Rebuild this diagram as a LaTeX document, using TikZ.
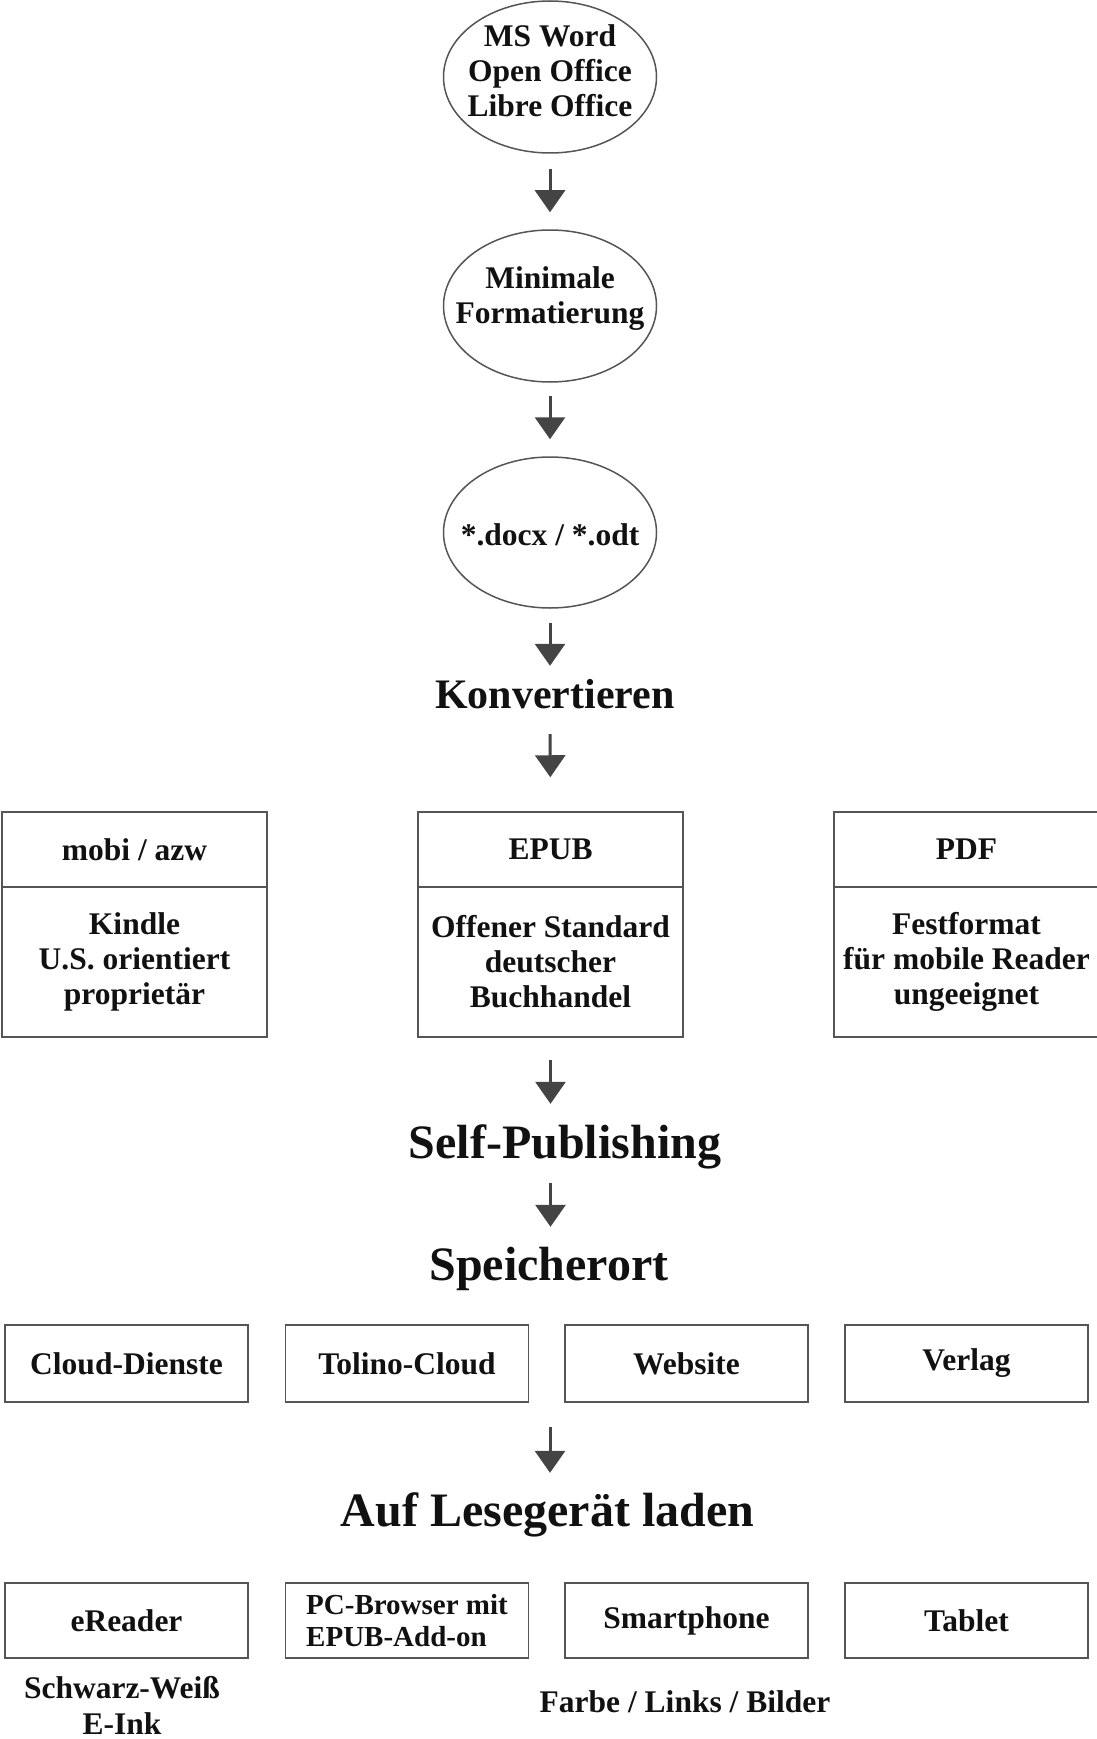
\documentclass[tikz,border=0pt]{standalone}
\usepackage{fontspec}
\setmainfont{Liberation Serif}
\usetikzlibrary{arrows.meta,shapes.geometric}
\definecolor{linegray}{HTML}{555555}
\definecolor{arrowgray}{HTML}{444444}
\definecolor{txtcol}{HTML}{111111}
\begin{document}
\begin{tikzpicture}[x=1pt,y=-1pt,
  every node/.style={text=txtcol, font=\bfseries\fontsize{31.5}{35}\selectfont},
  ell/.style={draw=linegray, line width=1.5pt, ellipse, inner sep=0pt, minimum width=213pt, minimum height=152pt},
  box/.style={draw=linegray, line width=1.5pt, rectangle, inner sep=0pt, minimum width=243pt, align=center},
  fbox/.style={box, minimum width=265pt},
  head/.style={font=\bfseries\fontsize{48}{52}\selectfont, inner sep=0pt, text height=30pt, text depth=10pt, anchor=base},
  arr/.style={draw=arrowgray, line width=3pt, -{Triangle[width=30pt,length=22pt]}}
]
\useasboundingbox (0,0) rectangle (1096,1739);

% ellipses
\node[ell] (e1) at (550,77) {};
\node[align=center] (t1) at (550,70.5) {MS Word\\Open Office\\Libre Office};
\node[ell] (e2) at (550,306) {};
\node[align=center] (t2) at (550,299) {Minimale\\Formatierung};
\node[ell, minimum height=151pt] (e3) at (550,532.5) {};
\node (t3) at (550,535) {*.docx / *.odt};

% headings
\node[head, font=\bfseries\fontsize{42}{46}\selectfont, text height=28pt] (konv) at (555,708) {Konvertieren};
\node[head] (selfpub) at (565,1158) {Self-Publishing};
\node[head] (speicher) at (549,1280) {Speicherort};
\node[head] (auf) at (547.5,1526) {Auf Lesegerät laden};

% format boxes
\node[fbox, minimum height=75pt] (mobiH) at (134.5,849.5) {mobi / azw};
\node[fbox, minimum height=150pt] (mobiB) at (134.5,962) {Kindle\\U.S. orientiert\\proprietär};
\node[fbox, minimum height=75pt] (epubH) at (550.5,849.5) {EPUB};
\node[fbox, minimum height=150pt] (epubB) at (550.5,962) {Offener Standard\\deutscher\\Buchhandel};
\node[fbox, minimum height=75pt] (pdfH) at (966.5,849.5) {PDF};
\node[fbox, minimum height=150pt] (pdfB) at (966.5,962) {Festformat\\für mobile Reader\\ungeeignet};

% storage boxes
\node[box, minimum height=77pt] (cloud) at (126.5,1363.5) {Cloud-Dienste};
\node[box, minimum height=77pt] (tolino) at (407,1363.5) {Tolino-Cloud};
\node[box, minimum height=77pt] (website) at (686.5,1363.5) {Website};
\node[box, minimum height=77pt] (verlag) at (966.5,1363.5) {Verlag};

% device boxes
\node[box, minimum height=75pt] (ereader) at (126.5,1620.5) {eReader};
\node[box, minimum height=75pt, align=left, font=\bfseries\fontsize{29}{32}\selectfont] (pc) at (407,1620.5) {PC-Browser mit\\EPUB-Add-on};
\node[box, minimum height=75pt] (smart) at (686.5,1620.5) {Smartphone};
\node[box, minimum height=75pt] (tablet) at (966.5,1620.5) {Tablet};

% notes
\node[align=center, font=\bfseries\fontsize{31.5}{36}\selectfont] (sw) at (122,1705.5) {Schwarz-Weiß\\E-Ink};
\node[anchor=base, inner sep=0pt] (farbe) at (685,1712) {Farbe / Links / Bilder};

% arrows
\draw[arr, shorten <=15pt, shorten >=17pt] (e1.south) -- (e2.north);
\draw[arr, shorten <=13pt, shorten >=17pt] (e2.south) -- (e3.north);
\draw[arr, shorten <=14pt, shorten >=14pt] (e3.south) -- (e3.south |- konv.north);
\draw[arr, shorten <=16pt, shorten >=34pt] (e3.south |- konv.south) -- (epubH.north);
\draw[arr, shorten <=22pt, shorten >=24pt] (epubB.south) -- (epubB.south |- selfpub.north);
\draw[arr, shorten <=15pt, shorten >=23pt] (epubB.south |- selfpub.south) -- (epubB.south |- speicher.north);
\coordinate (a7) at (550,1427);
\draw[arr, shorten >=23pt] (a7) -- (a7 |- auf.north);
\end{tikzpicture}
\end{document}
